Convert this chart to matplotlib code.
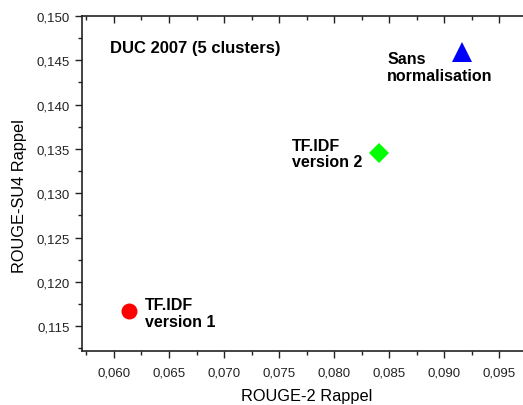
import matplotlib
matplotlib.use("Agg")
import matplotlib.pyplot as plt
from matplotlib.ticker import MultipleLocator, FuncFormatter

plt.rcParams['font.family'] = ['Liberation Sans', 'DejaVu Sans']

names = ["TF.IDF\nversion 1", "TF.IDF\nversion 2", "Sans\nnormalisation"]
rouge2 = [0.06136, 0.08409, 0.09164]
rougesu4 = [0.1167, 0.13454, 0.14594]
colors = ["#ff0000", "#00ff00", "#0000ff"]
markers = ["o", "D", "^"]
msizes = [11.5, 10.5, 14]
title = "DUC 2007 (5 clusters)"

W, H = 523, 406
fig = plt.figure(figsize=(W / 100, H / 100), dpi=100)
left, right, top, bottom = 82, 527, 17, 352
ax = fig.add_axes([left / W, 1 - bottom / H, (right - left) / W, (bottom - top) / H])

for x, y, c, m, s in zip(rouge2, rougesu4, colors, markers, msizes):
    ax.plot([x], [y], marker=m, color=c, markersize=s, linestyle='none', markeredgewidth=0)

ax.set_xlim(0.0571, 0.0975)
ax.set_ylim(0.1122, 0.150)

fmt = FuncFormatter(lambda v, p: f"{v:.3f}".replace(".", ","))
ax.xaxis.set_major_locator(MultipleLocator(0.005))
ax.xaxis.set_minor_locator(MultipleLocator(0.0025))
ax.yaxis.set_major_locator(MultipleLocator(0.005))
ax.yaxis.set_minor_locator(MultipleLocator(0.0025))
ax.xaxis.set_major_formatter(fmt)
ax.yaxis.set_major_formatter(fmt)

ax.tick_params(axis='both', which='both', direction='out', labelsize=9.5, width=1, colors='#222222')
ax.tick_params(axis='both', which='major', length=5)
ax.tick_params(axis='both', which='minor', length=3)
ax.tick_params(axis='x', which='both', top=True, labeltop=False)
ax.tick_params(axis='x', which='major', pad=6)
ax.tick_params(axis='y', which='major', pad=4)
ax.spines['right'].set_visible(False)
for sp in ['left', 'bottom', 'top']:
    ax.spines[sp].set_linewidth(1.2)
    ax.spines[sp].set_color('#222222')
for t in ax.xaxis.get_major_ticks() + ax.xaxis.get_minor_ticks():
    t.tick2line.set_marker(3)  # TICKDOWN: top ticks point inward

ax.set_xlabel("ROUGE-2 Rappel", fontsize=11.8, va='center')
ax.xaxis.set_label_coords(0.506, -0.134)
ax.set_ylabel("ROUGE-SU4 Rappel", fontsize=11.8, va='center')
ax.yaxis.set_label_coords(-0.140, 0.466)

ax.text(0.05964, 0.1465, title, fontsize=12, fontweight='bold', va='center', ha='left')
ax.text(0.06282, 0.11652, names[0], fontsize=11.5, fontweight='bold', va='center', ha='left', linespacing=1.15)
ax.text(0.07618, 0.13448, names[1], fontsize=11.5, fontweight='bold', va='center', ha='left', linespacing=1.15)
ax.text(0.08482, 0.14424, names[2], fontsize=11.5, fontweight='bold', va='center', ha='left', linespacing=1.15)

fig.savefig("out.png", dpi=100)
